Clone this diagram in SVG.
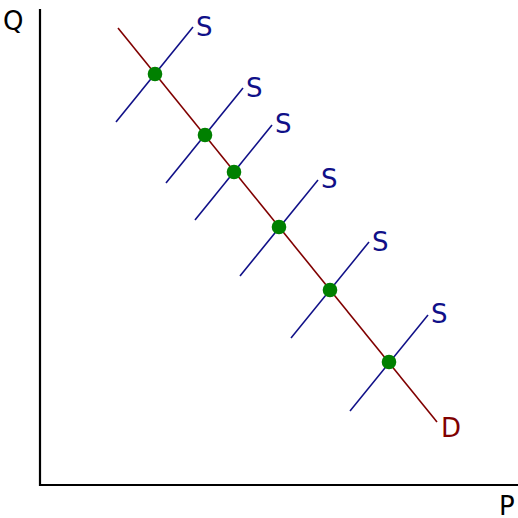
<svg xmlns="http://www.w3.org/2000/svg" width="518" height="518" viewBox="0 0 518 518">
<style>
text{font-family:"DejaVu Sans",sans-serif;font-size:26px}
.s{stroke:#101088;stroke-width:1.6;fill:none}
.d{stroke:#800000;stroke-width:1.6;fill:none}
.pt{fill:#008000}
.sl{fill:#101088}
</style>
<rect width="518" height="518" fill="#fff"/>
<g id="axes">
<path d="M40,9 V485 H518" fill="none" stroke="#000" stroke-width="2.2"/>
<text x="3" y="30" fill="#000">Q</text>
<text x="499" y="515" fill="#000">P</text>
</g>
<g id="connectors">
<line class="d" x1="118" y1="28" x2="437" y2="422"/>
<line class="s" x1="116" y1="122" x2="193" y2="27"/>
<line class="s" x1="166" y1="183" x2="243" y2="88"/>
<line class="s" x1="195" y1="220" x2="272" y2="125"/>
<line class="s" x1="240" y1="276" x2="318" y2="180"/>
<line class="s" x1="291" y1="338" x2="369" y2="242"/>
<line class="s" x1="350" y1="411" x2="428" y2="315"/>
</g>
<g id="labels">
<text class="sl" x="196" y="36">S</text>
<text class="sl" x="246" y="97">S</text>
<text class="sl" x="275" y="133">S</text>
<text class="sl" x="321" y="188">S</text>
<text class="sl" x="372" y="251">S</text>
<text class="sl" x="431" y="323">S</text>
<text x="441" y="437" fill="#800000">D</text>
</g>
<g id="p1"><circle class="pt" cx="155" cy="74" r="7.3"/></g>
<g id="p2"><circle class="pt" cx="205" cy="135" r="7.3"/></g>
<g id="p3"><circle class="pt" cx="234" cy="172" r="7.3"/></g>
<g id="p4"><circle class="pt" cx="279" cy="227" r="7.3"/></g>
<g id="p5"><circle class="pt" cx="330" cy="290" r="7.3"/></g>
<g id="p6"><circle class="pt" cx="389" cy="362" r="7.3"/></g>
</svg>
